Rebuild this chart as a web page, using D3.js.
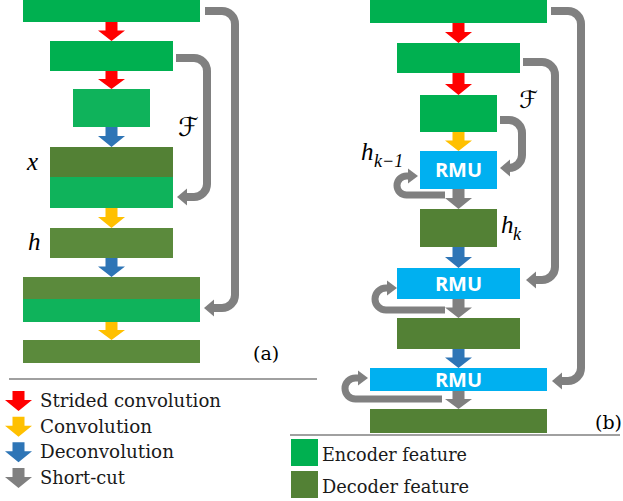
<!DOCTYPE html>
<html><head><meta charset="utf-8">
<script src="https://cdn.jsdelivr.net/npm/d3@7"></script>
<style>html,body{margin:0;padding:0;background:#fff;}svg{display:block;}</style>
</head><body>
<script>
// ---------- data ----------
const legendOps = ["Strided convolution", "Convolution", "Deconvolution", "Short-cut"];
const legendOpKinds = ["strided", "conv", "deconv", "short"];
const legendFeatures = ["Encoder feature", "Decoder feature"];
const legendFeatureKinds = ["enc", "dec"];
const panelLabels = ["(a)", "(b)"];
const rmuLabel = "RMU";

// panel (a): blocks (stacked parts), width level, operations between blocks
const aParts = [["enc"], ["enc"], ["enc2"], ["dec", "enc2"], ["dec2"], ["dec2", "enc2"], ["dec2"]];
const aLevels = [1, 2, 3, 2, 2, 1, 1];
const aOps = ["strided", "strided", "deconv", "conv", "deconv", "conv"];
// panel (b)
const bParts = [["enc"], ["enc"], ["enc"], ["rmu"], ["dec"], ["rmu"], ["dec"], ["rmu"], ["dec"]];
const bLevels = [1, 2, 3, 3, 3, 2, 2, 1, 1];
const bOps = ["strided", "strided", "conv", "short", "deconv", "short", "deconv", "short"];

// ---------- layout / style ----------
const W = 623, H = 501;
const colors = { enc: "#00b050", enc2: "#0fb35b", dec: "#538135", dec2: "#5b8a3c", rmu: "#00b0f0",
  strided: "#ff0000", conv: "#ffc000", deconv: "#2e75b6", short: "#808080" };
const widthScale = d3.scaleOrdinal().domain([1, 2, 3]).range([177, 123, 77]);
// block top/bottom and part split positions
const aLayout = [[0, 22], [41, 71], [89, 127], [147, 177, 208], [228, 258], [277, 299, 322], [340, 363]];
const bLayout = [[0, 23], [43, 73], [95, 132], [151, 189], [209, 247], [268, 299], [318, 349], [368, 391], [409, 433]];
const aCx = 111.5, bCx = 458.5;

const svg = d3.select("body").append("svg").attr("width", W).attr("height", H);
svg.append("rect").attr("width", W).attr("height", H).attr("fill", "#fff");

function blockArrow(g, cx, y0, y1, color) {
  const hl = Math.min(11, (y1 - y0) * 0.55);
  g.append("path")
    .attr("d", `M${cx - 6},${y0} H${cx + 6} V${y1 - hl} H${cx + 13.5} L${cx},${y1} L${cx - 13.5},${y1 - hl} H${cx - 6} Z`)
    .attr("fill", color);
}

function drawPanel(parts, levels, ops, layout, cx) {
  const g = svg.append("g");
  parts.forEach((p, i) => {
    const w = widthScale(levels[i]);
    const ys = layout[i];
    p.forEach((kind, j) => {
      g.append("rect").attr("x", cx - w / 2).attr("y", ys[j]).attr("width", w)
        .attr("height", ys[j + 1] - ys[j]).attr("fill", colors[kind]);
      if (kind === "rmu") {
        g.append("text").attr("x", cx).attr("y", (ys[j] + ys[j + 1]) / 2 + 7)
          .attr("text-anchor", "middle").attr("fill", "#fff")
          .attr("font-family", "'Open Sans', sans-serif").attr("font-weight", "700")
          .attr("font-size", 20).text(rmuLabel);
      }
    });
  });
  ops.forEach((op, i) => {
    const y0 = layout[i][layout[i].length - 1];
    const y1 = layout[i + 1][0];
    blockArrow(g, cx, y0, y1, colors[op]);
  });
  return g;
}

const gA = drawPanel(aParts, aLevels, aOps, aLayout, aCx);
const gB = drawPanel(bParts, bLevels, bOps, bLayout, bCx);

// shortcut connectors (right side)
function shortcut(x0, yTop, xV, yBot, xTip) {
  const r = 13;
  svg.append("path")
    .attr("d", `M${x0},${yTop} H${xV - r} A${r},${r} 0 0 1 ${xV},${yTop + r} V${yBot - r} A${r},${r} 0 0 1 ${xV - r},${yBot} H${xTip + 8}`)
    .attr("fill", "none").attr("stroke", colors.short).attr("stroke-width", 8);
  svg.append("path")
    .attr("d", `M${xTip},${yBot} L${xTip + 10},${yBot - 8.5} L${xTip + 10},${yBot + 8.5} Z`)
    .attr("fill", colors.short);
}
shortcut(176, 58, 207, 197, 177);
shortcut(205, 11, 235, 308, 204);
shortcut(500, 120, 522, 168, 500);
shortcut(523, 62, 555, 280, 526);
shortcut(551, 11, 581, 381, 552);

// recurrent loops (left side of RMUs)
function loop(xStart, yBot, yTop, xLeft, xTip) {
  const r = (yBot - yTop) / 2;
  svg.append("path")
    .attr("d", `M${xStart},${yBot} H${xLeft + r} A${r},${r} 0 0 1 ${xLeft + r},${yTop} H${xTip - 8}`)
    .attr("fill", "none").attr("stroke", colors.short).attr("stroke-width", 7);
  svg.append("path")
    .attr("d", `M${xTip},${yTop} L${xTip - 10},${yTop - 7.5} L${xTip - 10},${yTop + 7.5} Z`)
    .attr("fill", colors.short);
}
loop(445, 195, 176, 397, 418);
loop(445, 310, 288, 375, 397);
loop(442, 399, 378, 345, 368);

// math labels
const mathFont = "'Liberation Serif', 'DejaVu Serif', serif";
function mathText(x, y, s, size) {
  return svg.append("text").attr("x", x).attr("y", y).attr("font-family", mathFont)
    .attr("font-style", "italic").attr("font-size", size).attr("fill", "#000").text(s);
}
mathText(27, 170, "x", 25);
mathText(28, 250, "h", 25);
mathText(178, 136, "\u2131", 26).attr("font-style", "normal").attr("font-family", "'DejaVu Sans', sans-serif");
mathText(519, 108, "\u2131", 24).attr("font-style", "normal").attr("font-family", "'DejaVu Sans', sans-serif");
mathText(361, 160, "h", 25);
mathText(374, 167, "k\u22121", 18);
mathText(501, 233, "h", 25);
mathText(513, 240, "k", 18);

// panel labels
const serif = "'DejaVu Serif', serif";
svg.append("text").attr("x", 253).attr("y", 360).attr("font-family", serif).attr("font-size", 19).text(panelLabels[0]);
svg.append("text").attr("x", 595).attr("y", 429).attr("font-family", serif).attr("font-size", 19).text(panelLabels[1]);

// separators
svg.append("line").attr("x1", 9).attr("x2", 317).attr("y1", 379).attr("y2", 379).attr("stroke", "#808080").attr("stroke-width", 1.5);
svg.append("line").attr("x1", 290).attr("x2", 620).attr("y1", 435).attr("y2", 435).attr("stroke", "#808080").attr("stroke-width", 1.5);

// legend: operations
const opY = d3.scalePoint().domain(legendOps).range([391, 468]);
const opTextW = [181, 112, 134, 85];
legendOps.forEach((name, i) => {
  const y = opY(name);
  blockArrow(svg, 18.5, y, y + 20, colors[legendOpKinds[i]]);
  svg.append("text").attr("x", 40).attr("y", y + 16).attr("font-family", serif).attr("font-size", 18)
    .attr("textLength", opTextW[i]).attr("lengthAdjust", "spacingAndGlyphs").attr("fill", "#1a1a1a").text(name);
});
// legend: features
const featY = d3.scalePoint().domain(legendFeatures).range([439, 471]);
const featTextW = [145, 147];
legendFeatures.forEach((name, i) => {
  const y = featY(name);
  svg.append("rect").attr("x", 291).attr("y", y).attr("width", 27).attr("height", 27).attr("fill", colors[legendFeatureKinds[i]]);
  svg.append("text").attr("x", 322).attr("y", y + 22).attr("font-family", serif).attr("font-size", 18)
    .attr("textLength", featTextW[i]).attr("lengthAdjust", "spacingAndGlyphs").attr("fill", "#1a1a1a").text(name);
});
</script>
</body></html>
